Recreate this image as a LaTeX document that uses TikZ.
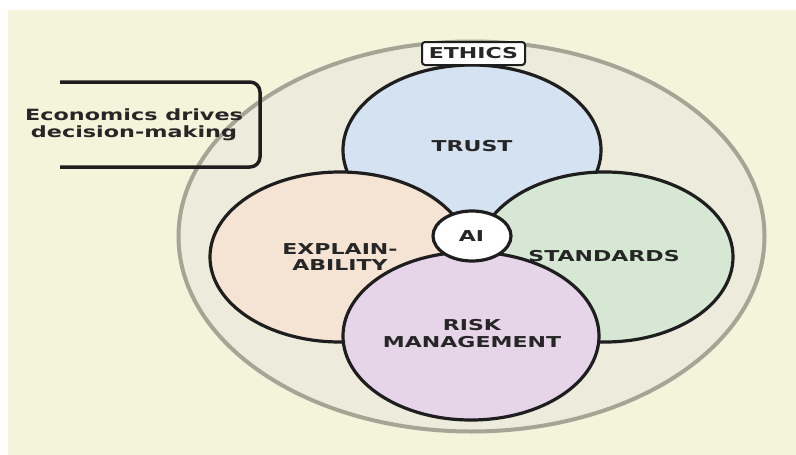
\documentclass[tikz,border=0pt]{standalone}
\usepackage{fontspec}
\usetikzlibrary{shapes.geometric}
\newfontfamily\lblfont[FakeStretch=1.47]{DejaVu Sans}
\newfontfamily\notefont[FakeStretch=1.44]{DejaVu Sans}

\definecolor{pagebg}{HTML}{F4F4DB}
\definecolor{ethicsfill}{HTML}{ECEBDC}
\definecolor{ethicsline}{HTML}{A5A596}
\definecolor{trustfill}{HTML}{D5E2F2}
\definecolor{explainfill}{HTML}{F5E4D3}
\definecolor{standardsfill}{HTML}{D6E8D4}
\definecolor{riskfill}{HTML}{E6D4E8}
\definecolor{ink}{HTML}{1E1E1E}
\definecolor{labelink}{HTML}{262626}

\tikzset{
  area/.style={ellipse, draw=ink, line width=3.2pt, inner sep=0pt},
  areatext/.style={font=\lblfont\bfseries\fontsize{15}{16.5}\selectfont,
    text=labelink, align=center, inner sep=0pt},
}

\begin{document}
\begin{tikzpicture}[x=1pt,y=-1pt]
  % page and coloured backdrop
  \fill[white] (0,0) rectangle (796,455);
  \fill[pagebg] (8,10) rectangle (796,455);
  \useasboundingbox (0,0) rectangle (796,455);

  % outer ethics ring
  \node[ellipse, fill=ethicsfill, draw=ethicsline, line width=4pt,
        minimum width=586, minimum height=390, inner sep=0pt] (ethics) at (471.5,236.5) {};

  % the four overlapping areas, back to front
  \node[area, fill=trustfill, minimum width=258, minimum height=170] (trust) at (472,150) {};
  \node[areatext] (trustlbl) at (472,146) {TRUST};

  \node[area, fill=explainfill, minimum width=260, minimum height=170] (explain) at (340,257) {};
  \node[areatext] (explainlbl) at (340,257) {EXPLAIN-\\ABILITY};

  \node[area, fill=standardsfill, minimum width=256, minimum height=170] (standards) at (605,257) {};
  \node[areatext] (standardslbl) at (604,256.5) {STANDARDS};

  \node[area, fill=riskfill, minimum width=256, minimum height=168] (risk) at (471,336) {};
  \node[areatext] (risklbl) at (472,333.5) {RISK\\MANAGEMENT};

  % centre badge
  \node[area, fill=white, minimum width=78, minimum height=50] (ai) at (472,236) {};
  \node[areatext] (ailbl) at (471.5,236) {AI};

  % title tag on the ring
  \node[draw=ink, line width=2pt, fill=white, rounded corners=3pt,
        minimum width=103, minimum height=23, inner sep=0pt,
        font=\lblfont\bfseries\fontsize{15}{16.5}\selectfont, text=labelink]
        (ethicslbl) at (473.5,53.5) {ETHICS};

  % side note with an open bracket
  \node[font=\notefont\bfseries\fontsize{15.5}{17}\selectfont, text=labelink,
        align=center, inner sep=0pt] (note) at (134,125) {Economics drives\\decision-making};
  \coordinate (notetop) at (60,82);
  \coordinate (notebot) at (60,167);
  \draw[ink, line width=3.5pt, rounded corners=10pt]
    (notetop) -- (260,82) -- (260,167) -- (notebot);
\end{tikzpicture}
\end{document}
